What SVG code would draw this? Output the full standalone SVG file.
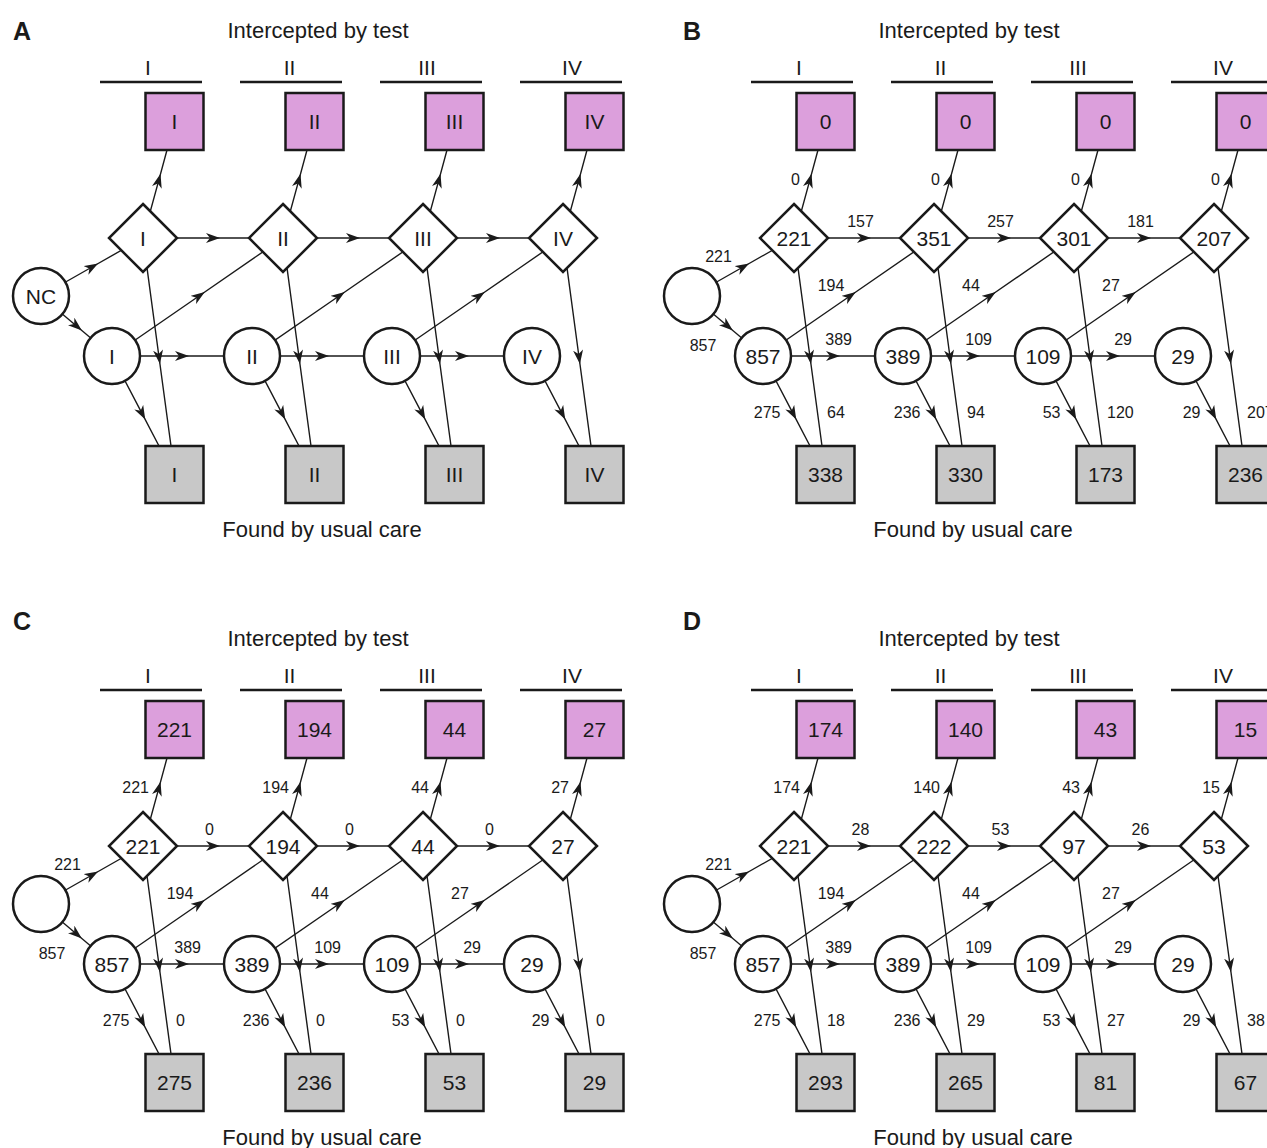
<svg xmlns="http://www.w3.org/2000/svg" width="1267" height="1148" viewBox="0 0 1267 1148">
  <style>
    .bg { fill: #ffffff; }
    .box { stroke: #1a1a1a; stroke-width: 2.5; }
    .white { fill: #ffffff; }
    .pink { fill: #dc9fdc; }
    .grey { fill: #c8c8c8; }
    .bar { stroke: #1a1a1a; stroke-width: 2.5; }
    .edge { fill: none; stroke: #1a1a1a; stroke-width: 1.4; marker-mid: url(#arr); }
    text { font-family: "Liberation Sans", Arial, Helvetica, sans-serif; fill: #1a1a1a; }
    .nt { font-size: 21px; text-anchor: middle; }
    .et { font-size: 16px; }
    .mid { text-anchor: middle; }
    .end { text-anchor: end; }
    .tt { font-size: 22px; text-anchor: middle; }
    .st { font-size: 21px; text-anchor: middle; }
    .lt { font-size: 25px; font-weight: bold; }
  </style>
  <defs>
    <marker id="arr" viewBox="0 0 14 10" refX="7" refY="5" markerWidth="14" markerHeight="10" markerUnits="userSpaceOnUse" orient="auto">
      <path d="M14,5 L0,0 L4,5 L0,10 Z" fill="#1a1a1a"/>
    </marker>
    <!-- shared connector layout of one panel -->
    <g id="links">
      <path class="edge" d="M41,296 L92,267 L143,238"/>
      <path class="edge" d="M41,296 L76.5,326 L112,356"/>
      <path class="edge" d="M143,238 L158.7,180.6 L167,150"/>
      <path class="edge" d="M283,238 L298.7,180.6 L307,150"/>
      <path class="edge" d="M423,238 L438.7,180.6 L447,150"/>
      <path class="edge" d="M563,238 L578.7,180.6 L587,150"/>
      <path class="edge" d="M177,238 L213,238 L249,238"/>
      <path class="edge" d="M317,238 L353,238 L389,238"/>
      <path class="edge" d="M457,238 L493,238 L529,238"/>
      <path class="edge" d="M112,356 L199,296 L283,238"/>
      <path class="edge" d="M252,356 L339,296 L423,238"/>
      <path class="edge" d="M392,356 L479,296 L563,238"/>
      <path class="edge" d="M140,356 L182,356 L224,356"/>
      <path class="edge" d="M280,356 L322,356 L364,356"/>
      <path class="edge" d="M420,356 L462,356 L504,356"/>
      <path class="edge" d="M112,356 L142,413.4 L159,446"/>
      <path class="edge" d="M252,356 L282,413.4 L299,446"/>
      <path class="edge" d="M392,356 L422,413.4 L439,446"/>
      <path class="edge" d="M532,356 L562,413.4 L579,446"/>
      <path class="edge" d="M143,238 L159,357 L171,446"/>
      <path class="edge" d="M283,238 L299,357 L311,446"/>
      <path class="edge" d="M423,238 L439,357 L451,446"/>
      <path class="edge" d="M563,238 L579,357 L591,446"/>
    </g>
    <!-- headings and stage bars of one panel -->
    <g id="frame">
      <text class="tt" x="318" y="37.5">Intercepted by test</text>
      <text class="tt" x="322" y="536.5">Found by usual care</text>
      <text class="st" x="148" y="75">I</text>
      <text class="st" x="289.5" y="75">II</text>
      <text class="st" x="427" y="75">III</text>
      <text class="st" x="572" y="75">IV</text>
      <line class="bar" x1="100" y1="82" x2="202" y2="82"/>
      <line class="bar" x1="240" y1="82" x2="342" y2="82"/>
      <line class="bar" x1="380" y1="82" x2="482" y2="82"/>
      <line class="bar" x1="520" y1="82" x2="622" y2="82"/>
    </g>
  </defs>

  <rect class="bg" x="0" y="0" width="1267" height="1148"/>

  <text class="lt" x="13" y="40">A</text>
  <text class="lt" x="683" y="40">B</text>
  <text class="lt" x="13" y="630">C</text>
  <text class="lt" x="683" y="630">D</text>

  <!-- Panel A: stage flow -->
  <g id="panelA">
    <use href="#frame"/>
    <g id="A-connectors"><use href="#links"/></g>
    <g id="A-nc"><circle class="box white" cx="41" cy="296" r="28"/><text class="nt" x="41" y="303.5">NC</text></g>
    <g id="A-d1"><polygon class="box white" points="143,204 177,238 143,272 109,238"/><text class="nt" x="143" y="245.5">I</text></g>
    <g id="A-d2"><polygon class="box white" points="283,204 317,238 283,272 249,238"/><text class="nt" x="283" y="245.5">II</text></g>
    <g id="A-d3"><polygon class="box white" points="423,204 457,238 423,272 389,238"/><text class="nt" x="423" y="245.5">III</text></g>
    <g id="A-d4"><polygon class="box white" points="563,204 597,238 563,272 529,238"/><text class="nt" x="563" y="245.5">IV</text></g>
    <g id="A-c1"><circle class="box white" cx="112" cy="356" r="28"/><text class="nt" x="112" y="363.5">I</text></g>
    <g id="A-c2"><circle class="box white" cx="252" cy="356" r="28"/><text class="nt" x="252" y="363.5">II</text></g>
    <g id="A-c3"><circle class="box white" cx="392" cy="356" r="28"/><text class="nt" x="392" y="363.5">III</text></g>
    <g id="A-c4"><circle class="box white" cx="532" cy="356" r="28"/><text class="nt" x="532" y="363.5">IV</text></g>
    <g id="A-p1"><rect class="box pink" x="145.5" y="93" width="58" height="57"/><text class="nt" x="174.5" y="129">I</text></g>
    <g id="A-p2"><rect class="box pink" x="285.5" y="93" width="58" height="57"/><text class="nt" x="314.5" y="129">II</text></g>
    <g id="A-p3"><rect class="box pink" x="425.5" y="93" width="58" height="57"/><text class="nt" x="454.5" y="129">III</text></g>
    <g id="A-p4"><rect class="box pink" x="565.5" y="93" width="58" height="57"/><text class="nt" x="594.5" y="129">IV</text></g>
    <g id="A-g1"><rect class="box grey" x="145.5" y="446" width="58" height="57"/><text class="nt" x="174.5" y="482">I</text></g>
    <g id="A-g2"><rect class="box grey" x="285.5" y="446" width="58" height="57"/><text class="nt" x="314.5" y="482">II</text></g>
    <g id="A-g3"><rect class="box grey" x="425.5" y="446" width="58" height="57"/><text class="nt" x="454.5" y="482">III</text></g>
    <g id="A-g4"><rect class="box grey" x="565.5" y="446" width="58" height="57"/><text class="nt" x="594.5" y="482">IV</text></g>
  </g>

  <!-- Panel B -->
  <g id="panelB" transform="translate(651,0)">
    <use href="#frame"/>
    <g id="B-connectors">
      <use href="#links"/>
      <text class="et mid" x="67.5" y="262">221</text>
      <text class="et mid" x="52" y="351">857</text>
      <text class="et end" x="149" y="185">0</text>
      <text class="et end" x="289" y="185">0</text>
      <text class="et end" x="429" y="185">0</text>
      <text class="et end" x="569" y="185">0</text>
      <text class="et mid" x="209.5" y="226.5">157</text>
      <text class="et mid" x="349.5" y="226.5">257</text>
      <text class="et mid" x="489.5" y="226.5">181</text>
      <text class="et mid" x="180" y="291">194</text>
      <text class="et mid" x="320" y="291">44</text>
      <text class="et mid" x="460" y="291">27</text>
      <text class="et end" x="201" y="345">389</text>
      <text class="et end" x="341" y="345">109</text>
      <text class="et end" x="481" y="345">29</text>
      <text class="et end" x="129.5" y="418">275</text>
      <text class="et end" x="269.5" y="418">236</text>
      <text class="et end" x="409.5" y="418">53</text>
      <text class="et end" x="549.5" y="418">29</text>
      <text class="et" x="176" y="417.5">64</text>
      <text class="et" x="316" y="417.5">94</text>
      <text class="et" x="456" y="417.5">120</text>
      <text class="et" x="596" y="417.5">207</text>
    </g>
    <g id="B-nc"><circle class="box white" cx="41" cy="296" r="28"/></g>
    <g id="B-d1"><polygon class="box white" points="143,204 177,238 143,272 109,238"/><text class="nt" x="143" y="245.5">221</text></g>
    <g id="B-d2"><polygon class="box white" points="283,204 317,238 283,272 249,238"/><text class="nt" x="283" y="245.5">351</text></g>
    <g id="B-d3"><polygon class="box white" points="423,204 457,238 423,272 389,238"/><text class="nt" x="423" y="245.5">301</text></g>
    <g id="B-d4"><polygon class="box white" points="563,204 597,238 563,272 529,238"/><text class="nt" x="563" y="245.5">207</text></g>
    <g id="B-c1"><circle class="box white" cx="112" cy="356" r="28"/><text class="nt" x="112" y="363.5">857</text></g>
    <g id="B-c2"><circle class="box white" cx="252" cy="356" r="28"/><text class="nt" x="252" y="363.5">389</text></g>
    <g id="B-c3"><circle class="box white" cx="392" cy="356" r="28"/><text class="nt" x="392" y="363.5">109</text></g>
    <g id="B-c4"><circle class="box white" cx="532" cy="356" r="28"/><text class="nt" x="532" y="363.5">29</text></g>
    <g id="B-p1"><rect class="box pink" x="145.5" y="93" width="58" height="57"/><text class="nt" x="174.5" y="129">0</text></g>
    <g id="B-p2"><rect class="box pink" x="285.5" y="93" width="58" height="57"/><text class="nt" x="314.5" y="129">0</text></g>
    <g id="B-p3"><rect class="box pink" x="425.5" y="93" width="58" height="57"/><text class="nt" x="454.5" y="129">0</text></g>
    <g id="B-p4"><rect class="box pink" x="565.5" y="93" width="58" height="57"/><text class="nt" x="594.5" y="129">0</text></g>
    <g id="B-g1"><rect class="box grey" x="145.5" y="446" width="58" height="57"/><text class="nt" x="174.5" y="482">338</text></g>
    <g id="B-g2"><rect class="box grey" x="285.5" y="446" width="58" height="57"/><text class="nt" x="314.5" y="482">330</text></g>
    <g id="B-g3"><rect class="box grey" x="425.5" y="446" width="58" height="57"/><text class="nt" x="454.5" y="482">173</text></g>
    <g id="B-g4"><rect class="box grey" x="565.5" y="446" width="58" height="57"/><text class="nt" x="594.5" y="482">236</text></g>
  </g>

  <!-- Panel C -->
  <g id="panelC" transform="translate(0,608)">
    <use href="#frame"/>
    <g id="C-connectors">
      <use href="#links"/>
      <text class="et mid" x="67.5" y="262">221</text>
      <text class="et mid" x="52" y="351">857</text>
      <text class="et end" x="149" y="185">221</text>
      <text class="et end" x="289" y="185">194</text>
      <text class="et end" x="429" y="185">44</text>
      <text class="et end" x="569" y="185">27</text>
      <text class="et mid" x="209.5" y="226.5">0</text>
      <text class="et mid" x="349.5" y="226.5">0</text>
      <text class="et mid" x="489.5" y="226.5">0</text>
      <text class="et mid" x="180" y="291">194</text>
      <text class="et mid" x="320" y="291">44</text>
      <text class="et mid" x="460" y="291">27</text>
      <text class="et end" x="201" y="345">389</text>
      <text class="et end" x="341" y="345">109</text>
      <text class="et end" x="481" y="345">29</text>
      <text class="et end" x="129.5" y="418">275</text>
      <text class="et end" x="269.5" y="418">236</text>
      <text class="et end" x="409.5" y="418">53</text>
      <text class="et end" x="549.5" y="418">29</text>
      <text class="et" x="176" y="417.5">0</text>
      <text class="et" x="316" y="417.5">0</text>
      <text class="et" x="456" y="417.5">0</text>
      <text class="et" x="596" y="417.5">0</text>
    </g>
    <g id="C-nc"><circle class="box white" cx="41" cy="296" r="28"/></g>
    <g id="C-d1"><polygon class="box white" points="143,204 177,238 143,272 109,238"/><text class="nt" x="143" y="245.5">221</text></g>
    <g id="C-d2"><polygon class="box white" points="283,204 317,238 283,272 249,238"/><text class="nt" x="283" y="245.5">194</text></g>
    <g id="C-d3"><polygon class="box white" points="423,204 457,238 423,272 389,238"/><text class="nt" x="423" y="245.5">44</text></g>
    <g id="C-d4"><polygon class="box white" points="563,204 597,238 563,272 529,238"/><text class="nt" x="563" y="245.5">27</text></g>
    <g id="C-c1"><circle class="box white" cx="112" cy="356" r="28"/><text class="nt" x="112" y="363.5">857</text></g>
    <g id="C-c2"><circle class="box white" cx="252" cy="356" r="28"/><text class="nt" x="252" y="363.5">389</text></g>
    <g id="C-c3"><circle class="box white" cx="392" cy="356" r="28"/><text class="nt" x="392" y="363.5">109</text></g>
    <g id="C-c4"><circle class="box white" cx="532" cy="356" r="28"/><text class="nt" x="532" y="363.5">29</text></g>
    <g id="C-p1"><rect class="box pink" x="145.5" y="93" width="58" height="57"/><text class="nt" x="174.5" y="129">221</text></g>
    <g id="C-p2"><rect class="box pink" x="285.5" y="93" width="58" height="57"/><text class="nt" x="314.5" y="129">194</text></g>
    <g id="C-p3"><rect class="box pink" x="425.5" y="93" width="58" height="57"/><text class="nt" x="454.5" y="129">44</text></g>
    <g id="C-p4"><rect class="box pink" x="565.5" y="93" width="58" height="57"/><text class="nt" x="594.5" y="129">27</text></g>
    <g id="C-g1"><rect class="box grey" x="145.5" y="446" width="58" height="57"/><text class="nt" x="174.5" y="482">275</text></g>
    <g id="C-g2"><rect class="box grey" x="285.5" y="446" width="58" height="57"/><text class="nt" x="314.5" y="482">236</text></g>
    <g id="C-g3"><rect class="box grey" x="425.5" y="446" width="58" height="57"/><text class="nt" x="454.5" y="482">53</text></g>
    <g id="C-g4"><rect class="box grey" x="565.5" y="446" width="58" height="57"/><text class="nt" x="594.5" y="482">29</text></g>
  </g>

  <!-- Panel D -->
  <g id="panelD" transform="translate(651,608)">
    <use href="#frame"/>
    <g id="D-connectors">
      <use href="#links"/>
      <text class="et mid" x="67.5" y="262">221</text>
      <text class="et mid" x="52" y="351">857</text>
      <text class="et end" x="149" y="185">174</text>
      <text class="et end" x="289" y="185">140</text>
      <text class="et end" x="429" y="185">43</text>
      <text class="et end" x="569" y="185">15</text>
      <text class="et mid" x="209.5" y="226.5">28</text>
      <text class="et mid" x="349.5" y="226.5">53</text>
      <text class="et mid" x="489.5" y="226.5">26</text>
      <text class="et mid" x="180" y="291">194</text>
      <text class="et mid" x="320" y="291">44</text>
      <text class="et mid" x="460" y="291">27</text>
      <text class="et end" x="201" y="345">389</text>
      <text class="et end" x="341" y="345">109</text>
      <text class="et end" x="481" y="345">29</text>
      <text class="et end" x="129.5" y="418">275</text>
      <text class="et end" x="269.5" y="418">236</text>
      <text class="et end" x="409.5" y="418">53</text>
      <text class="et end" x="549.5" y="418">29</text>
      <text class="et" x="176" y="417.5">18</text>
      <text class="et" x="316" y="417.5">29</text>
      <text class="et" x="456" y="417.5">27</text>
      <text class="et" x="596" y="417.5">38</text>
    </g>
    <g id="D-nc"><circle class="box white" cx="41" cy="296" r="28"/></g>
    <g id="D-d1"><polygon class="box white" points="143,204 177,238 143,272 109,238"/><text class="nt" x="143" y="245.5">221</text></g>
    <g id="D-d2"><polygon class="box white" points="283,204 317,238 283,272 249,238"/><text class="nt" x="283" y="245.5">222</text></g>
    <g id="D-d3"><polygon class="box white" points="423,204 457,238 423,272 389,238"/><text class="nt" x="423" y="245.5">97</text></g>
    <g id="D-d4"><polygon class="box white" points="563,204 597,238 563,272 529,238"/><text class="nt" x="563" y="245.5">53</text></g>
    <g id="D-c1"><circle class="box white" cx="112" cy="356" r="28"/><text class="nt" x="112" y="363.5">857</text></g>
    <g id="D-c2"><circle class="box white" cx="252" cy="356" r="28"/><text class="nt" x="252" y="363.5">389</text></g>
    <g id="D-c3"><circle class="box white" cx="392" cy="356" r="28"/><text class="nt" x="392" y="363.5">109</text></g>
    <g id="D-c4"><circle class="box white" cx="532" cy="356" r="28"/><text class="nt" x="532" y="363.5">29</text></g>
    <g id="D-p1"><rect class="box pink" x="145.5" y="93" width="58" height="57"/><text class="nt" x="174.5" y="129">174</text></g>
    <g id="D-p2"><rect class="box pink" x="285.5" y="93" width="58" height="57"/><text class="nt" x="314.5" y="129">140</text></g>
    <g id="D-p3"><rect class="box pink" x="425.5" y="93" width="58" height="57"/><text class="nt" x="454.5" y="129">43</text></g>
    <g id="D-p4"><rect class="box pink" x="565.5" y="93" width="58" height="57"/><text class="nt" x="594.5" y="129">15</text></g>
    <g id="D-g1"><rect class="box grey" x="145.5" y="446" width="58" height="57"/><text class="nt" x="174.5" y="482">293</text></g>
    <g id="D-g2"><rect class="box grey" x="285.5" y="446" width="58" height="57"/><text class="nt" x="314.5" y="482">265</text></g>
    <g id="D-g3"><rect class="box grey" x="425.5" y="446" width="58" height="57"/><text class="nt" x="454.5" y="482">81</text></g>
    <g id="D-g4"><rect class="box grey" x="565.5" y="446" width="58" height="57"/><text class="nt" x="594.5" y="482">67</text></g>
  </g>
</svg>
